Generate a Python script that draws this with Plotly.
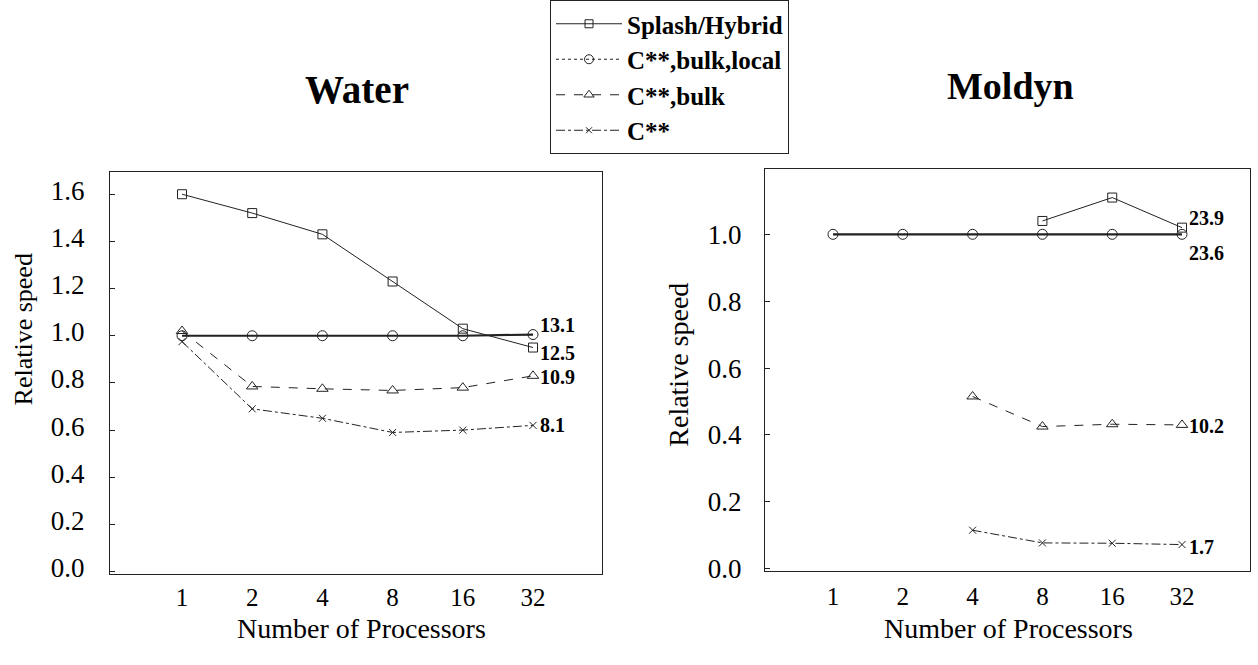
import math
import plotly.graph_objects as go

# ---------------- data ----------------
processors = [1, 2, 4, 8, 16, 32]
proc_labels = ["1", "2", "4", "8", "16", "32"]

series_names = ["Splash/Hybrid", "C**,bulk,local", "C**,bulk", "C**"]

# Water
water_splash = [1.60, 1.52, 1.43, 1.23, 1.03, 0.95]
water_bulk_local = [1.00, 1.00, 1.00, 1.00, 1.00, 1.005]
water_bulk = [1.02, 0.785, 0.775, 0.768, 0.78, 0.83]
water_cstar = [0.975, 0.69, 0.65, 0.59, 0.60, 0.62]
water_end_labels = ["12.5", "13.1", "10.9", "8.1"]

# Moldyn (missing points = None)
moldyn_splash = [None, None, None, 1.04, 1.11, 1.02]
moldyn_bulk_local = [1.00, 1.00, 1.00, 1.00, 1.00, 1.00]
moldyn_bulk = [None, None, 0.515, 0.425, 0.432, 0.43]
moldyn_cstar = [None, None, 0.115, 0.077, 0.076, 0.072]
moldyn_end_labels = ["23.9", "23.6", "10.2", "1.7"]

water_yticks = [0.0, 0.2, 0.4, 0.6, 0.8, 1.0, 1.2, 1.4, 1.6]
moldyn_yticks = [0.0, 0.2, 0.4, 0.6, 0.8, 1.0]

# ---------------- styles ----------------
INK = "#222222"
SERIF = "Liberation Serif, Times New Roman, serif"
styles = [
    dict(symbol="square-open", size=9, dash="solid", width=1.0),
    dict(symbol="circle-open", size=10, dash="solid", width=2.2),
    dict(symbol="triangle-up-open", size=10, dash="dash", width=1.0),
    dict(symbol="x-thin-open", size=7, dash="dashdot", width=1.0),
]
legend_dash = ["solid", "dot", "dash", "dashdot"]
# pixel offsets of the end labels (style only)
water_label_shift = [-5, 10, -1, 0]
moldyn_label_shift = [10, -19, -1, -2]

fig = go.Figure()

water = [water_splash, water_bulk_local, water_bulk, water_cstar]
moldyn = [moldyn_splash, moldyn_bulk_local, moldyn_bulk, moldyn_cstar]

for ys, xa, ya in [(water, "x", "y"), (moldyn, "x2", "y2")]:
    for name, vals, st in zip(series_names, ys, styles):
        fig.add_trace(go.Scatter(
            x=processors, y=vals, mode="lines+markers", name=name,
            xaxis=xa, yaxis=ya, showlegend=False, connectgaps=False,
            line=dict(color=INK, width=st["width"], dash=st["dash"]),
            marker=dict(symbol=st["symbol"], size=st["size"], color=INK,
                        line=dict(color=INK, width=1)),
        ))

# legend-only traces
for name, st, dsh in zip(series_names, styles, legend_dash):
    fig.add_trace(go.Scatter(
        x=[None], y=[None], mode="lines+markers", name=name,
        line=dict(color=INK, width=1, dash=dsh),
        marker=dict(symbol=st["symbol"], size=st["size"] - 1, color=INK,
                    line=dict(color=INK, width=1)),
    ))

# end labels (log axis: annotation x is in log10 units)
for ys, labels, shifts, xa, ya in [
    (water, water_end_labels, water_label_shift, "x", "y"),
    (moldyn, moldyn_end_labels, moldyn_label_shift, "x2", "y2"),
]:
    for vals, lab, sh in zip(ys, labels, shifts):
        fig.add_annotation(
            x=math.log10(processors[-1]), y=vals[-1], xref=xa, yref=ya, text=lab,
            showarrow=False, xanchor="left", yanchor="middle",
            xshift=5, yshift=sh,
            font=dict(family=SERIF, size=20, color="black", weight="bold"),
        )

# titles
fig.add_annotation(x=357 / 1258, y=1 - 91 / 665, xref="paper", yref="paper",
                   text="<b>Water</b>", showarrow=False,
                   xanchor="center", yanchor="middle",
                   font=dict(family=SERIF, size=39, color="black"))
fig.add_annotation(x=1010 / 1258, y=1 - 88 / 665, xref="paper", yref="paper",
                   text="<b>Moldyn</b>", showarrow=False,
                   xanchor="center", yanchor="middle",
                   font=dict(family=SERIF, size=38, color="black"))

# axis titles
for xc in [361, 1008]:
    fig.add_annotation(x=xc / 1258, y=1 - 641 / 665, xref="paper", yref="paper",
                       text="Number of Processors", showarrow=False,
                       xanchor="center", yanchor="middle",
                       font=dict(family=SERIF, size=28, color="black"))
for xc, yc, fs in [(23, 336, 26), (679, 372, 28)]:
    fig.add_annotation(x=xc / 1258, y=1 - yc / 665, xref="paper", yref="paper",
                       text="Relative speed", showarrow=False, textangle=-90,
                       xanchor="center", yanchor="middle",
                       font=dict(family=SERIF, size=fs, color="black"))

L2 = 0.30103
axis_common = dict(showline=True, linecolor=INK, linewidth=1, mirror=True,
                   showgrid=False, zeroline=False)
xtickfont = dict(family=SERIF, size=25, color="black")
ytickfont = dict(family=SERIF, size=27, color="black")

fig.update_layout(
    width=1258, height=665, autosize=False,
    margin=dict(l=0, r=0, t=0, b=0),
    paper_bgcolor="white", plot_bgcolor="white",
    showlegend=True,
    legend=dict(x=550 / 1258, y=1.0, xanchor="left", yanchor="top",
                bordercolor=INK, borderwidth=1, bgcolor="white",
                font=dict(family=SERIF, size=25, color="black", weight="bold"),
                itemwidth=66, tracegroupgap=0),
    xaxis=dict(domain=[110 / 1258, 602 / 1258], type="log",
               range=[-1.026 * L2, 5.983 * L2], tickvals=processors,
               ticktext=proc_labels, ticks="", anchor="y",
               ticklabelstandoff=1, tickfont=xtickfont, **axis_common),
    yaxis=dict(domain=[1 - 585 / 665, 1 - 175 / 665], range=[-0.0083, 1.696],
               tickvals=water_yticks, tickformat=".1f", ticks="inside",
               ticklen=5, tickcolor=INK, anchor="x",
               ticklabelstandoff=19, ticklabelshift=-4, tickfont=ytickfont,
               **axis_common),
    xaxis2=dict(domain=[765 / 1258, 1250 / 1258], type="log",
                range=[-0.974 * L2, 5.974 * L2], tickvals=processors,
                ticktext=proc_labels, ticks="", anchor="y2",
                ticklabelstandoff=3, tickfont=xtickfont, **axis_common),
    yaxis2=dict(domain=[1 - 582 / 665, 1 - 172 / 665], range=[-0.0059, 1.1965],
                tickvals=moldyn_yticks, tickformat=".1f", ticks="inside",
                ticklen=5, tickcolor=INK, anchor="x2",
                ticklabelstandoff=17, tickfont=ytickfont, **axis_common),
)

fig.write_html(
    "out.html",
    config={"displayModeBar": False},
    post_script="document.body.style.margin='0';document.body.style.overflow='hidden';",
)
